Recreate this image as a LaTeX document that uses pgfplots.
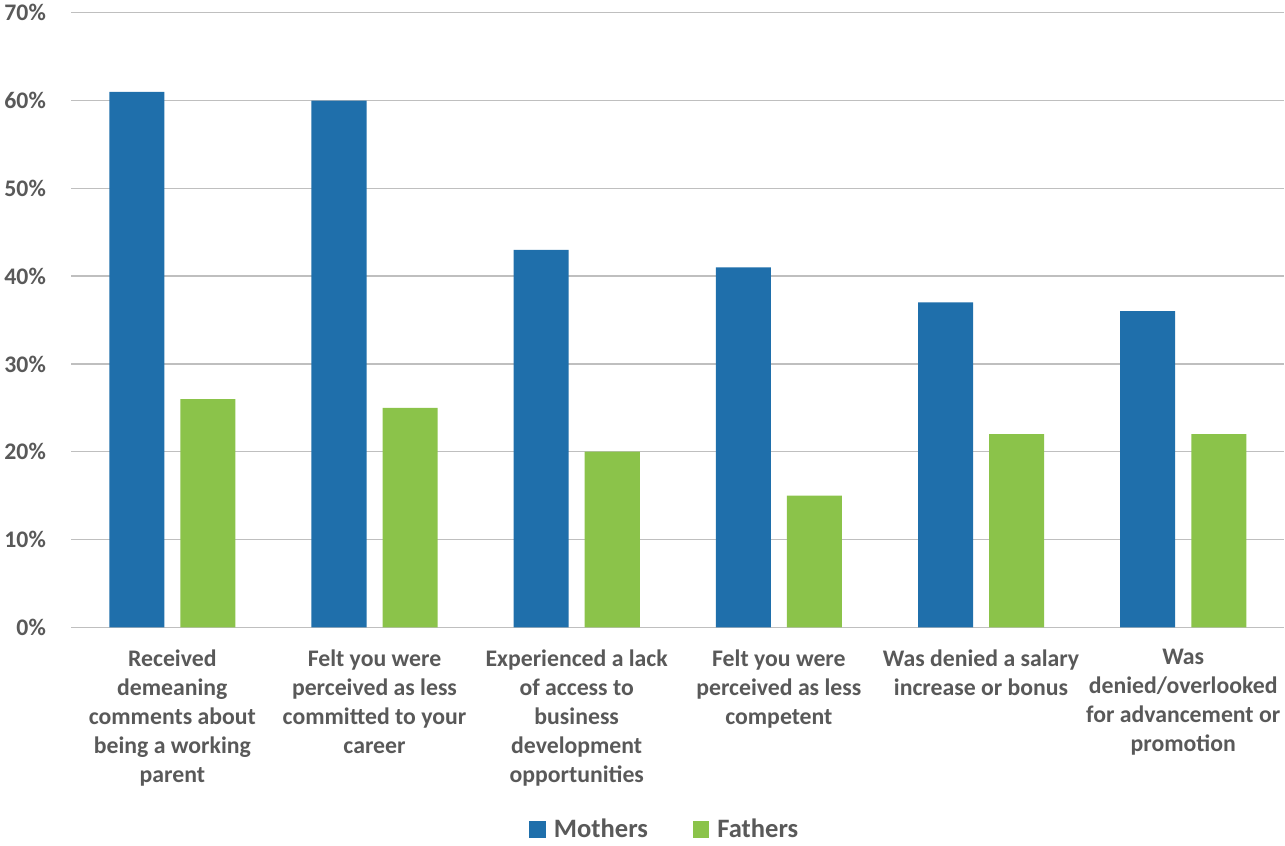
\documentclass[border=0pt]{standalone}
\usepackage{pgfplots}
\pgfplotsset{compat=1.18}
\usepackage{fontspec}
\setmainfont{Carlito}
\definecolor{mblue}{RGB}{31,111,171}
\definecolor{fgreen}{RGB}{139,195,74}
\definecolor{txt}{RGB}{89,89,89}
\definecolor{grid}{RGB}{217,217,217}
\begin{document}
\begin{tikzpicture}
\begin{axis}[
  scale only axis,
  width=909pt, height=460.5pt,
  xmin=-0.5, xmax=5.5, ymin=0, ymax=70,
  axis line style={draw=none},
  tick style={draw=none},
  ybar=12pt, bar width=41.25pt,
  xmajorgrids=false, ymajorgrids=true, grid style={grid, line width=1pt},
  ytick={0,10,20,30,40,50,60,70},
  yticklabels={0\%,10\%,20\%,30\%,40\%,50\%,60\%,70\%},
  yticklabel style={font=\fontsize{17.8}{20}\selectfont\bfseries, text=txt, anchor=east, xshift=-15.5pt},
  xtick={0,1,2,3,4,5},
  xticklabels={{Received\\demeaning\\comments about\\being a working\\parent},
    {Felt you were\\perceived as less\\committed to your\\career},
    {Experienced a lack\\of access to\\business\\development\\opportunities},
    {Felt you were\\perceived as less\\competent},
    {Was denied a salary\\increase or bonus},
    {Was\\denied/overlooked\\for advancement or\\promotion}},
  xticklabel style={font=\fontsize{17.8}{21.75}\selectfont\bfseries, text=txt, align=center, anchor=north, yshift=-13pt},
  major tick length=0pt,
  legend style={at={(0.4895,-0.329)}, anchor=center, draw=none, fill=none,
    font=\fontsize{19.9}{22}\selectfont\bfseries, text=txt, legend columns=2,
    /tikz/every even column/.append style={column sep=31.5pt},
    /tikz/every odd column/.append style={column sep=4pt}},
  legend image code/.code={\fill[#1] (0pt,-6.25pt) rectangle (12.5pt,6.25pt);},
]
\addplot[fill=mblue, draw=none] coordinates {(0,61) (1,60) (2,43) (3,41) (4,37) (5,36)};
\addplot[fill=fgreen, draw=none] coordinates {(0,26) (1,25) (2,20) (3,15) (4,22) (5,22)};
\legend{Mothers, Fathers}
\end{axis}
\end{tikzpicture}
\end{document}
